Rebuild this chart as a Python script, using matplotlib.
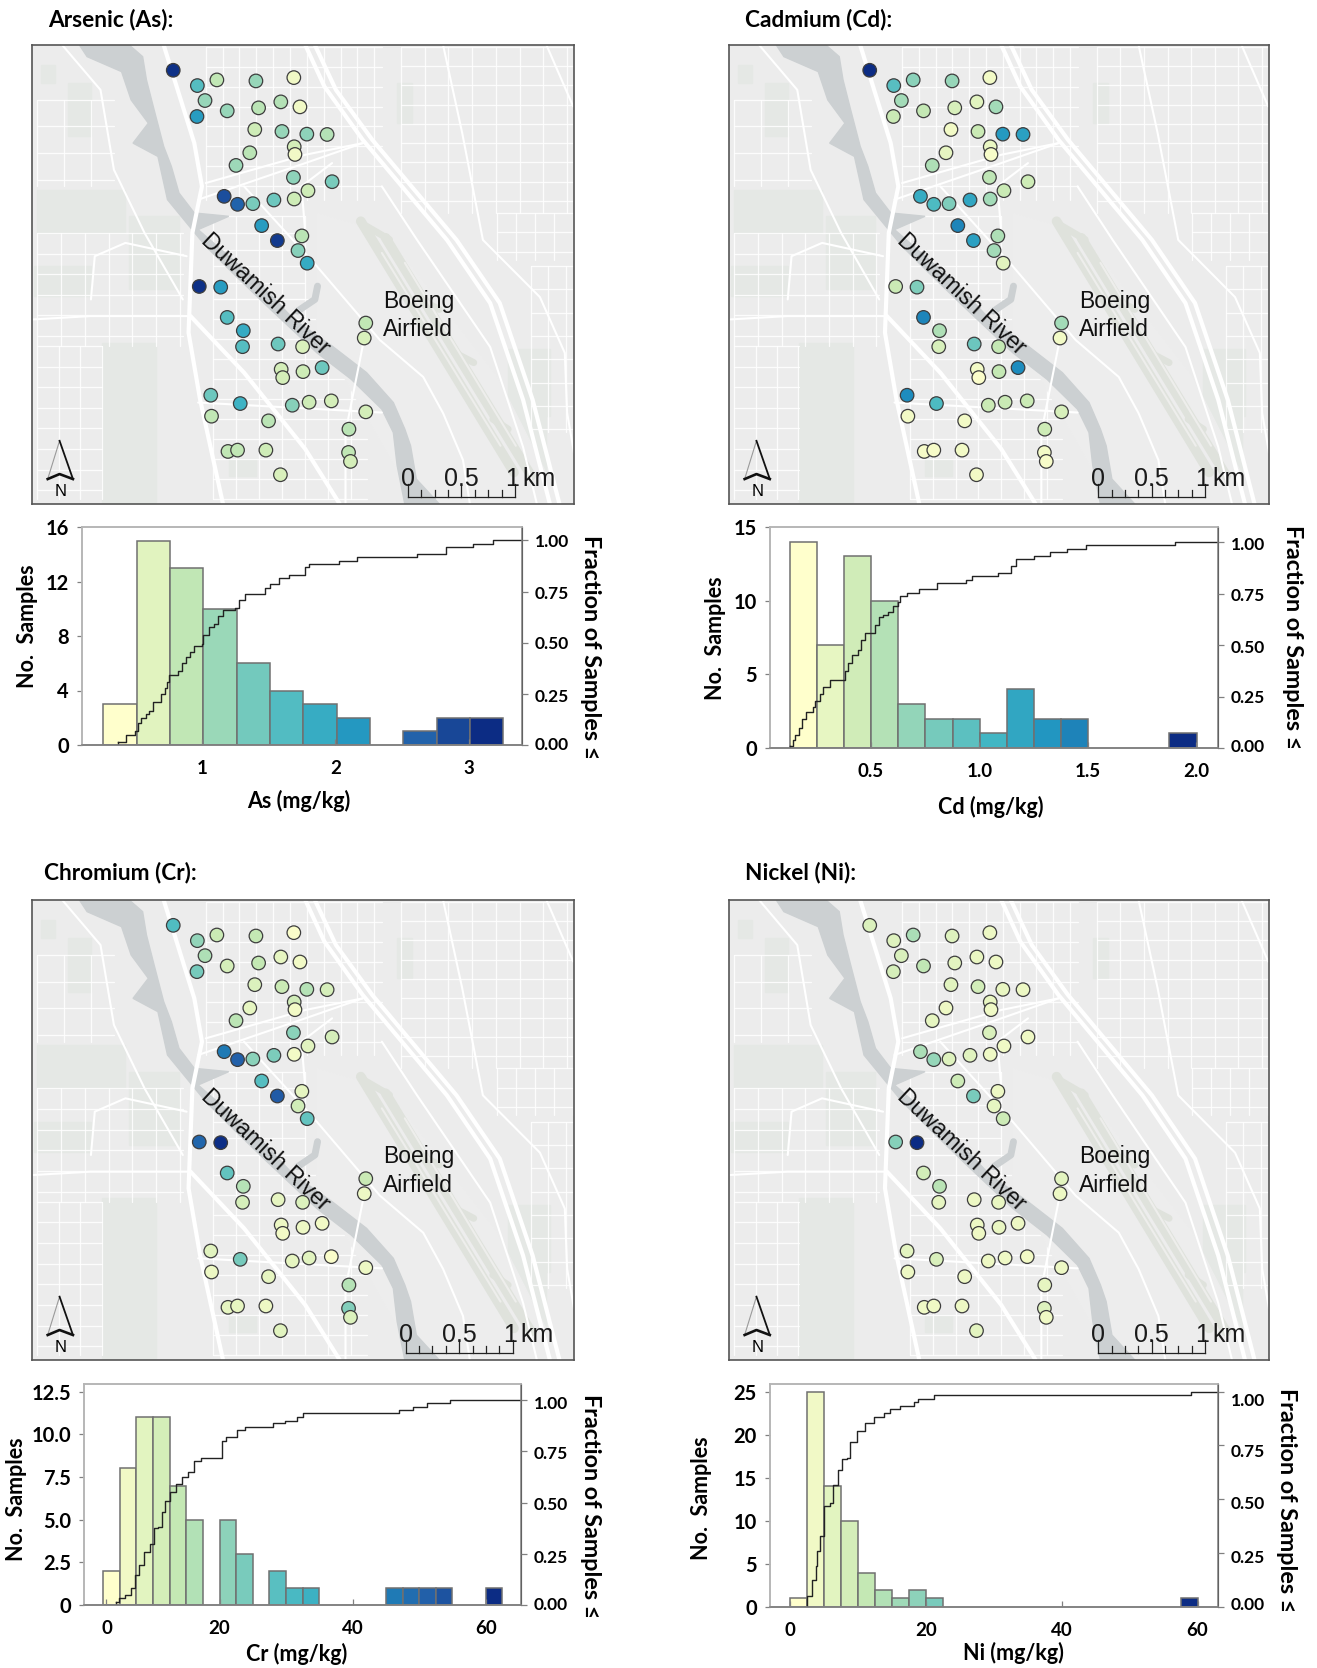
import numpy as np
import matplotlib
matplotlib.use('Agg')
import matplotlib.pyplot as plt
from matplotlib.collections import LineCollection
from matplotlib.colors import LinearSegmentedColormap
from matplotlib.patches import Polygon, Rectangle
from matplotlib.transforms import ScaledTranslation

plt.rcParams['font.family'] = ['Lato', 'DejaVu Sans']

W, H = 1317, 1668

# sampling sites, in map units
site_x = [455, 518, 569, 671, 770, 538, 596, 678, 736, 786, 517, 668, 739, 804, 857,
          771, 773, 655, 619, 769, 870, 807, 771, 718, 663, 623, 588, 686, 727, 791,
          781, 805, 523, 579, 596, 638, 636, 729, 793, 958, 954, 844, 737, 741, 794,
          553, 630, 766, 810, 868, 958, 555, 704, 914, 598, 623, 697, 913, 918, 735]
site_y = [211, 257, 240, 243, 233, 302, 333, 324, 306, 321, 350, 389, 395, 403, 404,
          441, 464, 459, 497, 533, 546, 573, 598, 601, 612, 614, 590, 678, 723, 709,
          753, 791, 861, 863, 954, 994, 1042, 1034, 1042, 971, 1016, 1105, 1110, 1135, 1117,
          1188, 1213, 1218, 1209, 1205, 1238, 1251, 1265, 1290, 1357, 1353, 1353, 1360, 1387, 1427]

site_as = [3.2, 1.6, 0.8, 1.1, 0.4, 1.1, 1.1, 0.85, 0.9, 0.4, 2.1, 0.7, 1.1, 1.15, 0.9,
           0.65, 0.4, 0.85, 1.05, 1.15, 1.3, 0.7, 0.7, 1.4, 1.3, 2.7, 2.9, 2.1, 3.1, 0.85,
           1.2, 1.9, 3.2, 2.1, 1.6, 1.9, 1.6, 1.4, 0.6, 0.8, 0.6, 1.4, 0.65, 0.65, 0.7,
           1.4, 1.8, 1.2, 0.7, 0.65, 0.65, 0.8, 0.85, 0.85, 0.8, 0.8, 0.7, 0.8, 0.65, 0.6]
site_cd = [2.0, 0.95, 0.7, 0.65, 0.2, 0.6, 0.45, 0.35, 0.3, 0.6, 0.42, 0.2, 0.42, 1.3, 1.25,
           0.25, 0.17, 0.27, 0.55, 0.48, 0.4, 0.42, 0.6, 1.2, 0.75, 1.0, 1.15, 1.45, 1.25, 0.55,
           0.6, 0.3, 0.42, 0.75, 1.45, 0.55, 0.35, 0.85, 0.45, 0.6, 0.2, 1.4, 0.2, 0.15, 0.45,
           1.4, 1.0, 0.42, 0.42, 0.42, 0.35, 0.2, 0.2, 0.4, 0.18, 0.18, 0.2, 0.2, 0.17, 0.2]
site_cr = [30, 20, 12, 13, 3.5, 16, 10, 13, 7, 5, 24, 9, 12, 15, 10,
           11, 5, 7, 14, 21, 10, 8, 5, 23, 21, 52, 47, 29, 53, 7,
           11, 27, 51, 62, 27, 15, 10, 7, 9, 12, 6, 5, 6, 5, 6,
           8, 24, 7, 8, 3.5, 6, 6, 7, 15, 7, 7, 6, 22, 9, 8]
site_ni = [6.5, 6, 14, 6, 3.5, 7, 11, 5, 4, 3.5, 7.5, 5.5, 8, 4, 3.5,
           4, 3, 3.5, 4.5, 7, 3, 3, 3, 5.5, 6, 17, 14, 9, 21, 3.5,
           4.5, 9, 19, 60, 8, 12, 4.5, 3.5, 4, 5, 3.5, 3.5, 3.5, 3, 4,
           5, 7, 3.5, 3, 2.5, 3.5, 3.5, 3.5, 4.5, 3, 3, 3.5, 6, 3, 5]

# histograms: first bin edge, bin width, counts
as_start, as_width = 0.26, 0.25
as_counts = [3, 15, 13, 10, 6, 4, 3, 2, 0, 1, 2, 2]
cd_start, cd_width = 0.126, 0.125
cd_counts = [14, 7, 13, 10, 3, 2, 2, 1, 4, 2, 2, 0, 0, 0, 1]
cr_start, cr_width = 2.5, 2.5
cr_counts = [2, 8, 11, 11, 7, 5, 0, 5, 3, 0, 2, 1, 1, 0, 0, 0, 0, 1, 1, 1, 1, 0, 0, 1]
ni_start, ni_width = 0.0, 2.5
ni_counts = [1, 25, 14, 10, 4, 2, 1, 2, 1] + [0] * 14 + [1]

# cumulative fraction curves
as_cdf_x = [.37, .43, .50, .52, .54, .58, .60, .63, .69, .72, .74, .75, .82, .85, .88, .91, .94, 1.0, 1.01, 1.05,
            1.09, 1.12, 1.16, 1.25, 1.28, 1.32, 1.47, 1.51, 1.58, 1.65, 1.77, 1.80, 2.03, 2.16, 2.61, 2.83, 3.03, 3.18, 3.40]
as_cdf_y = [.015, .05, .07, .11, .13, .15, .165, .21, .25, .28, .31, .34, .36, .40, .43, .455, .485, .495, .54, .575,
            .59, .63, .66, .67, .71, .74, .77, .785, .815, .83, .87, .885, .90, .918, .934, .966, .984, 1.0, 1.0]
cd_cdf_x = [.126, .14, .15, .167, .18, .20, .23, .24, .264, .277, .31, .38, .393, .41, .44, .454, .47, .52, .535, .555,
            .58, .60, .623, .633, .666, .72, .804, .936, .964, 1.084, 1.145, 1.167, 1.253, 1.323, 1.402, 1.489, 1.90, 2.10]
cd_cdf_y = [.011, .04, .064, .095, .143, .175, .2, .23, .263, .298, .33, .374, .414, .454, .478, .525, .557, .597, .637, .648,
            .661, .693, .709, .737, .756, .772, .804, .817, .838, .852, .887, .919, .936, .952, .968, .986, 1.0, 1.0]
cr_cdf_x = [4.43, 4.85, 5.74, 6.75, 7.23, 7.94, 8.71, 9.6, 10.2, 10.8, 11.27, 11.86, 12.57, 13.46, 14.36, 15.25, 16.14, 17.15,
            20.3, 21.0, 22.55, 23.86, 28.0, 29.8, 31.6, 32.5, 46.9, 49.1, 51.2, 54.6, 61.0, 65.3]
cr_cdf_y = [.015, .032, .05, .084, .148, .196, .26, .30, .377, .38, .454, .51, .55, .59, .623, .647, .704, .72,
            .80, .82, .852, .868, .889, .90, .918, .936, .95, .968, .984, 1.0, 1.0, 1.0]
ni_cdf_x = [2.1, 2.46, 3.17, 3.76, 3.93, 4.47, 5.06, 5.94, 6.3, 7.0, 7.6, 8.36, 8.78, 9.84, 11.0, 12.3, 13.8, 14.7, 16.16,
            18.2, 18.9, 21.2, 59.0, 63.0]
ni_cdf_y = [.0, .05, .127, .19, .258, .328, .467, .482, .567, .637, .686, .69, .768, .819, .853, .884, .90, .918, .935,
            .95, .967, .985, 1.0, 1.0]

cmap = LinearSegmentedColormap.from_list('ylgnbu7', ['#ffffcc', '#c7e9b4', '#7fcdbb', '#41b6c4',
                                                     '#1d91c0', '#225ea8', '#0c2c84'])


def box(l, t, r, b):
    return [l / W, 1 - b / H, (r - l) / W, (b - t) / H]


def lines(ax, segs, lw, color='white', z=2, alpha=1.0):
    ax.add_collection(LineCollection(segs, linewidths=lw, colors=color, zorder=z, alpha=alpha,
                                     capstyle='round', joinstyle='round'))


def grid_block(x0, x1, y0, y1, dx, dy):
    segs = [[(x, y0), (x, y1)] for x in np.arange(x0, x1 + 1, dx)]
    segs += [[(x0, y), (x1, y)] for y in np.arange(y0, y1 + 1, dy)]
    return segs


def basemap(ax):
    ax.set_facecolor('#ececec')
    # greener parks
    for (x, y, w, h) in [(100, 570, 230, 130), (180, 250, 60, 160), (110, 195, 35, 55), (90, 800, 150, 90),
                         (270, 1030, 140, 480), (340, 650, 130, 220), (1180, 1250, 250, 265),
                         (1330, 1050, 110, 200), (1040, 250, 40, 120), (600, 1380, 70, 50)]:
        ax.add_patch(Rectangle((x, y), w, h, color='#e5e8e5', zorder=1))

    # street blocks
    segs = []
    segs += grid_block(100, 480, 700, 1040, 62, 62)
    segs += grid_block(100, 270, 1040, 1500, 56, 62)
    segs += grid_block(100, 300, 300, 560, 70, 80)
    segs += grid_block(540, 1000, 140, 600, 44, 60)
    segs += grid_block(560, 800, 650, 900, 60, 50)
    segs += grid_block(560, 960, 900, 1500, 60, 60)
    segs += grid_block(1050, 1500, 140, 640, 62, 58)
    segs += grid_block(1300, 1500, 640, 780, 50, 58)
    segs += grid_block(1390, 1500, 800, 1300, 45, 70)
    lines(ax, segs, 0.9, z=2, alpha=0.85)

    # airfield
    ax.add_patch(Polygon([(830, 640), (1010, 700), (1300, 1130), (1470, 1515), (1090, 1515),
                          (900, 1130), (830, 1000)], color='#ededed', zorder=2))
    lines(ax, [[(945, 665), (1345, 1420)], [(1010, 715), (1390, 1430)]], 7, '#dfe2dc', z=3)
    lines(ax, [[(960, 680), (1020, 720)], [(1100, 900), (1150, 930)], [(1190, 1060), (1240, 1090)],
               [(1290, 1260), (1330, 1290)]], 5, '#dfe2dc', z=3)
    lines(ax, [[(1000, 760), (1310, 1340)], [(1060, 790), (1350, 1340)]], 1.5, '#eeeeec', z=3)

    # Duwamish and slough
    river = [(210, 135), (230, 170), (320, 215), (345, 300), (390, 370), (350, 430), (415, 470), (440, 600),
             (490, 670), (540, 740), (610, 820), (700, 920), (830, 1060), (920, 1140), (1000, 1230), (1030, 1300),
             (1040, 1400), (1060, 1515), (1150, 1515), (1090, 1440), (1075, 1340), (1060, 1290), (1030, 1210), (960, 1120),
             (870, 1040), (770, 960), (680, 850), (600, 770), (520, 690), (600, 650), (510, 640), (470, 580),
             (450, 500), (430, 440), (405, 330), (385, 240), (375, 170), (340, 135)]
    ax.add_patch(Polygon(river, color='#ccd0d2', zorder=3))
    lines(ax, [[(780, 935), (825, 900), (832, 860)]], 5, '#ccd0d2', z=3)

    # main roads
    roads = [[(800, 135), (850, 260), (950, 420), (1170, 721), (1283, 911), (1369, 1202), (1439, 1515)],
             [(825, 135), (880, 270), (975, 420), (1195, 721), (1308, 911), (1394, 1202), (1464, 1515)],
             [(430, 135), (510, 430), (530, 560), (505, 700), (495, 1000), (525, 1200), (585, 1515)],
             [(500, 950), (640, 1120), (800, 1350), (890, 1515)]]
    lines(ax, roads, 3.0, z=4)
    thin = [[(1160, 135), (1210, 400), (1264, 721), (1413, 893), (1478, 1061), (1484, 1241), (1502, 1361)],
            [(1430, 135), (1500, 320)],
            [(520, 600), (800, 490), (950, 430)],
            [(540, 550), (800, 465), (950, 430)],
            [(165, 135), (265, 270), (300, 510), (380, 700), (480, 900)],
            [(640, 560), (830, 800), (995, 1022), (1108, 1133), (1160, 1242), (1212, 1383), (1230, 1515)],
            [(950, 1040), (905, 1300), (905, 1515)],
            [(240, 900), (250, 770), (330, 730), (490, 770)],
            [(90, 960), (240, 950), (500, 950)],
            [(800, 700), (790, 560), (870, 490)],
            [(520, 1210), (1000, 1240)],
            [(1000, 560), (1092, 721), (1283, 1043), (1369, 1344), (1405, 1515)]]
    lines(ax, thin, 1.5, z=4)


def north_arrow(ax):
    ax.plot([158, 127], [1325, 1440], color='#9a9a9a', lw=0.8, zorder=5)
    ax.plot([158, 193], [1325, 1440], color='#111111', lw=1.3, zorder=5)
    ax.plot([127, 158, 193], [1440, 1425, 1440], color='#111111', lw=1.9, zorder=5)
    ax.text(160, 1476, 'N', family='Liberation Sans', fontsize=12, ha='center', va='center', zorder=5)


def scale_bar(ax, dx):
    x0, x1, y = 1068 + dx, 1348 + dx, 1494
    ax.plot([x0, x1], [y, y], color='#222222', lw=0.9, zorder=5)
    for i in range(9):
        tx = x0 + (x1 - x0) * i / 8
        ax.plot([tx, tx], [y, y - (38 if i % 4 == 0 else 22)], color='#222222', lw=0.9, zorder=5)
    kw = dict(family='Liberation Sans', fontsize=18, color='#1a1a1a', va='baseline', zorder=5)
    ax.text(x0, 1462, '0', ha='center', **kw)
    ax.text((x0 + x1) / 2, 1462, '0.5', ha='center', **kw)
    ax.text(x1 - 8, 1462, '1', ha='center', **kw)
    ax.text(x1 + 20, 1462, 'km', ha='left', **kw)


def map_panel(frame, values, vmin, vmax, dx=0):
    ax = fig.add_axes(box(*frame))
    basemap(ax)
    ax.set_xlim(86, 1502)
    ax.set_ylim(1515, 135)
    ax.set_xticks([])
    ax.set_yticks([])
    for s in ax.spines.values():
        s.set_color('#555555')
        s.set_linewidth(1.2)
        s.set_zorder(8)
    ax.scatter(site_x, site_y, c=values, cmap=cmap, vmin=vmin, vmax=vmax, s=95,
               edgecolors='#3d3d3d', linewidths=0.9, zorder=6)
    lab = dict(family='Liberation Sans', color='#111111', zorder=7)
    ax.text(695, 885, 'Duwamish River', fontsize=16.5, rotation=-43, rotation_mode='anchor',
            ha='center', va='center', **lab)
    ax.text(1004, 905, 'Boeing', fontsize=16.5, ha='left', va='center', **lab)
    ax.text(1004, 990, 'Airfield', fontsize=16.5, ha='left', va='center', **lab)
    north_arrow(ax)
    scale_bar(ax, dx)
    return ax


def hist_panel(frame, xlim, ylim, frac_top, start, width, counts, cdf_x, cdf_y, xticks, xticklabels,
               yticks, yticklabels, right_shift, xlabel, xlabel_pos, ylabel_pos, rlabel_pos):
    ax = fig.add_axes(box(*frame))
    edges = start + width * np.arange(len(counts))
    cols = cmap(np.arange(len(counts)) / (len(counts) - 1))
    keep = np.array(counts) > 0
    ax.bar(edges[keep], np.array(counts)[keep], width=width, align='edge', color=cols[keep],
           edgecolor='#707070', linewidth=1.1)
    ax.set_xlim(*xlim)
    ax.set_ylim(*ylim)
    ax.set_xticks(xticks, xticklabels)
    ax.set_yticks(yticks, yticklabels)
    ax.tick_params(axis='x', direction='in', length=4, width=0.9, color='#808080', pad=11, labelsize=13.5)
    ax.tick_params(axis='y', direction='out', length=3.5, width=0.9, color='#808080', pad=6, labelsize=14.5)
    for lbl in ax.get_xticklabels() + ax.get_yticklabels():
        lbl.set_fontweight('bold')
    for side, c in [('top', '#b5b5b5'), ('left', '#b5b5b5'), ('bottom', '#808080')]:
        ax.spines[side].set_color(c)
        ax.spines[side].set_linewidth(1.1)

    ax2 = ax.twinx()
    ax2.set_ylim(0, frac_top)
    ax2.step(cdf_x, cdf_y, where='post', color='#222222', lw=1.0)
    ax2.plot([cdf_x[0], cdf_x[0]], [0, cdf_y[0]], color='#222222', lw=1.0)
    ax2.set_yticks([0, .25, .5, .75, 1.0], ['0.00', '0.25', '0.50', '0.75', '1.00'])
    ax2.tick_params(axis='y', direction='out', length=4, width=0.9, color='#808080', pad=5, labelsize=12.5)
    for lbl, sh in zip(ax2.get_yticklabels(), right_shift):
        lbl.set_fontweight('bold')
        lbl.set_transform(lbl.get_transform() + ScaledTranslation(0, -sh / 100, fig.dpi_scale_trans))
    for side, c in [('top', '#b5b5b5'), ('left', '#b5b5b5'), ('bottom', '#808080'), ('right', '#808080')]:
        ax2.spines[side].set_color(c)
        ax2.spines[side].set_linewidth(1.1)

    fig.text(xlabel_pos[0] / W, 1 - xlabel_pos[1] / H, xlabel, fontsize=15.5, fontweight='bold',
             ha='center', va='center')
    fig.text(ylabel_pos[0] / W, 1 - ylabel_pos[1] / H, 'No.  Samples', fontsize=15.5, fontweight='bold',
             rotation=90, ha='center', va='center')
    fig.text(rlabel_pos[0] / W, 1 - rlabel_pos[1] / H, 'Fraction of Samples \u2264', fontsize=16.8,
             fontweight='bold', rotation=270, ha='center', va='center')


fig = plt.figure(figsize=(W / 100, H / 100), dpi=100)

for x, y, t in [(48, 19, 'Arsenic (As):'), (745, 19, 'Cadmium (Cd):'),
                (44, 873, 'Chromium (Cr):'), (745, 873, 'Nickel (Ni):')]:
    fig.text(x / W, 1 - y / H, t, fontsize=16.3, fontweight='bold', ha='left', va='center')

map_panel((32, 45, 574, 504), site_as, 0.26, 3.25)
map_panel((729, 45, 1269, 504), site_cd, 0.126, 2.0, dx=-14)
map_panel((32, 900, 574, 1360), site_cr, 2.5, 62.5, dx=-6)
map_panel((729, 900, 1269, 1360), site_ni, 0, 60, dx=-14)

hist_panel((82, 527, 522, 745), (0.10, 3.40), (0, 16), 1.066, as_start, as_width, as_counts, as_cdf_x, as_cdf_y,
           [1, 2, 3], ['1', '2', '3'], [0, 4, 8, 12, 16], ['0', '4', '8', '12', '16'], [-1, 2, 0, 1, 0],
           'As (mg/kg)', (299, 801), (27, 626), (591, 647))
hist_panel((770, 527, 1218, 748), (0.034, 2.10), (0, 15), 1.075, cd_start, cd_width, cd_counts, cd_cdf_x, cd_cdf_y,
           [0.5, 1.0, 1.5, 2.0], ['0.5', '1.0', '1.5', '2.0'], [0, 5, 10, 15], ['0', '5', '10', '15'], [-3, 0, 1, 1, 1],
           'Cd (mg/kg)', (991, 807), (716, 638), (1292, 637))
# the 0 label sits right of the true origin in the source, its labels were placed by hand
hist_panel((84, 1384, 521, 1605), (-0.38, 65.3), (0, 12.95), 1.079, cr_start, cr_width, cr_counts, cr_cdf_x, cr_cdf_y,
           [3, 20, 40, 60], ['0', '20', '40', '60'], [0, 2.5, 5, 7.5, 10, 12.5],
           ['0', '2.5', '5.0', '7.5', '10.0', '12.5'], [-1, 3, 1, 1, 2],
           'Cr (mg/kg)', (297, 1654), (17, 1499), (590, 1506))
hist_panel((770, 1384, 1218, 1607), (-2.95, 63.0), (0, 25.9), 1.035, ni_start, ni_width, ni_counts, ni_cdf_x, ni_cdf_y,
           [0, 20, 40, 60], ['0', '20', '40', '60'], [0, 5, 10, 15, 20, 25], ['0', '5', '10', '15', '20', '25'],
           [-4, 3, 3, 5, 8],
           'Ni (mg/kg)', (1013, 1653), (701, 1498), (1286, 1500))

fig.savefig('out.png', dpi=100)
